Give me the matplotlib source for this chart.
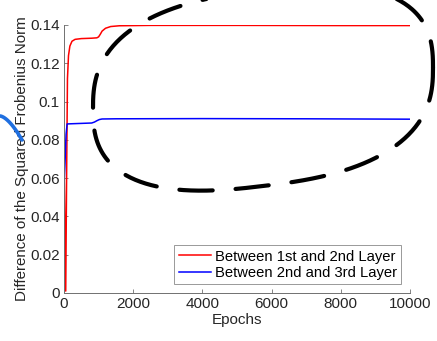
import numpy as np
from matplotlib import pyplot as plt
from matplotlib.lines import Line2D
from matplotlib.transforms import IdentityTransform

plt.rcParams["font.family"] = ["Liberation Sans", "DejaVu Sans"]

# difference of squared Frobenius norm
red_epochs = [0, 50, 75, 100, 130, 170, 230, 320, 500, 800, 950, 1000, 1050,
              1100, 1200, 1350, 1600, 2500, 5000, 8000, 10000]
red_values = [0.072, 0.001, 0.060, 0.112, 0.124, 0.129, 0.1315, 0.1325,
              0.1329, 0.1331, 0.1333, 0.1338, 0.1352, 0.1368, 0.1383,
              0.1392, 0.1396, 0.1398, 0.1398, 0.1397, 0.1397]

blue_epochs = [0, 30, 60, 90, 200, 500, 800, 880, 950, 1020, 1100, 1500,
               4000, 7000, 10000]
blue_values = [0.056, 0.068, 0.083, 0.0883, 0.0884, 0.0886, 0.0888, 0.0893,
               0.0900, 0.0906, 0.0909, 0.0910, 0.0911, 0.0910, 0.0908]

labels = ["Between 1st and 2nd Layer", "Between 2nd and 3rd Layer"]
xticks = [0, 2000, 4000, 6000, 8000, 10000]
yticks = [0, 0.02, 0.04, 0.06, 0.08, 0.1, 0.12, 0.14]
ytick_labels = ["0", "0.02", "0.04", "0.06", "0.08", "0.1", "0.12", "0.14"]

W, H = 437, 341
fig = plt.figure(figsize=(W / 100, H / 100), dpi=100)
ax = fig.add_axes([64 / W, 48 / H, 346 / W, 268 / H])

ax.plot(red_epochs, red_values, color="#ff0000", lw=1.1, label=labels[0])
ax.plot(blue_epochs, blue_values, color="#0000ff", lw=1.1, label=labels[1])

ax.set_xlim(0, 10000)
ax.set_ylim(0, 0.14)
ax.set_xticks(xticks)
ax.set_yticks(yticks)
ax.set_yticklabels(ytick_labels)
for s in ["top", "right"]:
    ax.spines[s].set_visible(False)
for s in ["left", "bottom"]:
    ax.spines[s].set_color("#707070")
    ax.spines[s].set_linewidth(0.7)
ax.tick_params(direction="in", length=3, width=0.6, color="#707070",
               labelsize=11, labelcolor="#262626", pad=3)

ax.set_xlabel("Epochs", fontsize=11, color="#262626", labelpad=1)
ax.set_ylabel("Difference of the Squared Frobenius Norm", fontsize=10.9,
              color="#262626", labelpad=1)

leg = ax.legend(loc="lower right", fontsize=10.6, frameon=True, fancybox=False,
                handlelength=2.2, handletextpad=0.25, borderpad=0.3,
                labelspacing=0.15, borderaxespad=0.6)
leg.get_frame().set_edgecolor("#808080")
leg.get_frame().set_linewidth(0.7)

# hand-drawn dashed loop over the plateau region (pixel coords, y down)
t = np.linspace(0, 2 * np.pi, 400)
n = 2.6
cx, cy, a, b = 263, 88, 170, 98
px = cx + a * np.sign(np.cos(t)) * np.abs(np.cos(t)) ** (2 / n)
py = cy + b * np.sign(np.sin(t)) * np.abs(np.sin(t)) ** (2 / n)
py = py + (px - cx) * -0.12
fig.add_artist(Line2D(px, H - py, transform=IdentityTransform(), color="black",
                      lw=3, ls=(0, (8, 5.5)), solid_capstyle="round",
                      dash_capstyle="round"))

# small blue pen stroke near the y label
s = np.linspace(0, 1, 30)
bx = 22 * s
by = 116 + 24 * s ** 1.6
fig.add_artist(Line2D(bx, H - by, transform=IdentityTransform(),
                      color="#1f6fe0", lw=2.6, solid_capstyle="round"))

fig.savefig("out.png", dpi=100)
